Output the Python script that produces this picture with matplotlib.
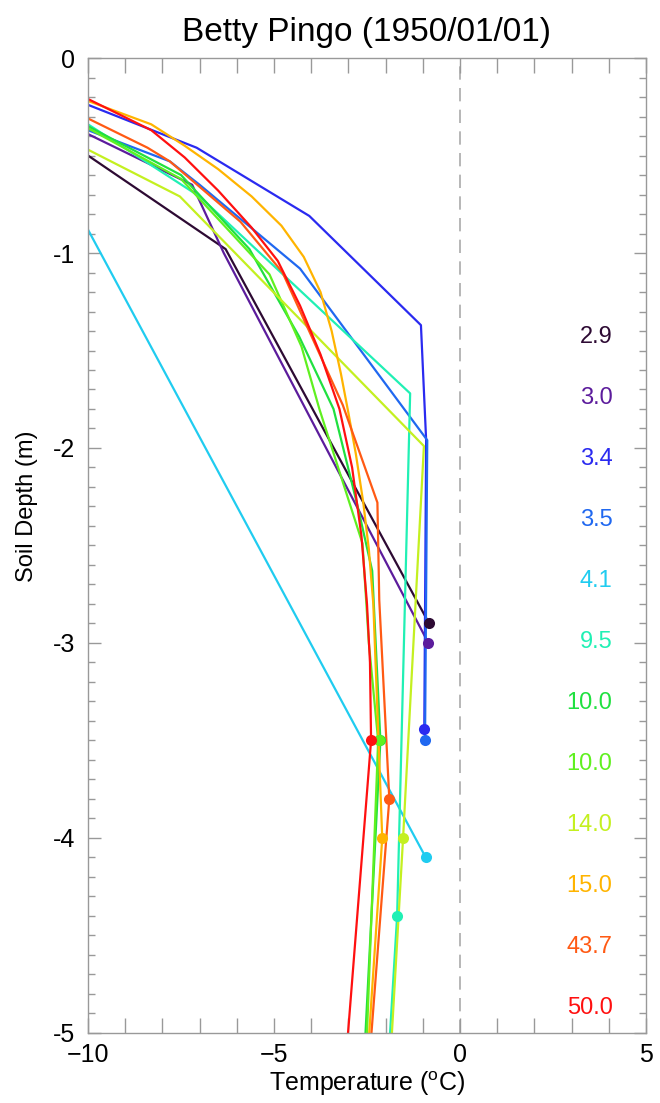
import numpy as np
import matplotlib
matplotlib.use("Agg")
import matplotlib.pyplot as plt
from matplotlib.ticker import MultipleLocator

plt.rcParams["font.family"] = ["Liberation Sans", "DejaVu Sans"]
plt.rcParams["mathtext.fontset"] = "custom"
plt.rcParams["mathtext.rm"] = "Liberation Sans"

# %% profile data: temperature (C) vs soil depth (m), one per label
labels = ["2.9", "3.0", "3.4", "3.5", "4.1", "9.5", "10.0", "10.0", "14.0", "15.0", "43.7", "50.0"]
colors = ["#2d0a33", "#5c1c9c", "#2a2af0", "#2068f0", "#20ccf0", "#20f0b4",
          "#20e040", "#60f020", "#c4f020", "#ffb400", "#ff5a14", "#ff1010"]

t_29 = [-10, -6.3, -0.83]
d_29 = [-0.50, -0.98, -2.9]
t_30 = [-10, -7.2, -6.35, -0.85]
d_30 = [-0.39, -0.65, -1.0, -3.0]
t_34 = [-10, -7.08, -4.05, -1.05, -0.91, -0.96]
d_34 = [-0.24, -0.46, -0.81, -1.37, -1.96, -3.44]
t_35 = [-10, -7.8, -7.0, -4.3, -0.88, -0.94]
d_35 = [-0.37, -0.53, -0.65, -1.08, -1.96, -3.5]
t_41 = [-10, -0.92]
d_41 = [-0.88, -4.1]
t_95 = [-10, -7.0, -1.34, -1.69, -1.88]
d_95 = [-0.34, -0.71, -1.72, -4.4, -5.0]
t_10a = [-10, -7.5, -5.66, -4.32, -3.4, -2.75, -2.36, -2.14, -2.54]
d_10a = [-0.35, -0.6, -0.98, -1.43, -1.8, -2.3, -2.63, -3.5, -5.0]
t_10b = [-10, -7.5, -5.12, -4.26, -3.78, -2.62, -2.45, -2.2, -2.50]
d_10b = [-0.36, -0.62, -1.11, -1.48, -1.8, -2.49, -3.0, -3.5, -5.0]
t_14 = [-10, -7.53, -0.97, -1.53, -1.83]
d_14 = [-0.47, -0.71, -1.99, -4.0, -5.0]
t_15 = [-10, -8.3, -7.4, -6.5, -5.6, -4.8, -4.2, -3.75, -3.45, -3.2, -3.0, -2.8,
        -2.6, -2.45, -2.33, -2.09, -2.44]
d_15 = [-0.22, -0.34, -0.45, -0.57, -0.71, -0.86, -1.02, -1.2, -1.4, -1.62, -1.82, -2.03,
        -2.28, -2.52, -2.8, -4.0, -5.0]
t_437 = [-10, -8.4, -7.8, -5.9, -4.77, -3.15, -2.22, -2.17, -1.9, -2.38]
d_437 = [-0.31, -0.46, -0.53, -0.84, -1.1, -1.78, -2.28, -2.78, -3.8, -5.0]
t_50 = [-10, -8.3, -7.4, -6.5, -5.6, -4.9, -4.3, -3.75, -3.24, -2.9, -2.65, -2.5,
        -2.42, -2.39, -3.01]
d_50 = [-0.21, -0.37, -0.51, -0.68, -0.87, -1.04, -1.27, -1.52, -1.8, -2.1, -2.45, -2.8,
        -3.1, -3.5, -5.0]

temps = [t_29, t_30, t_34, t_35, t_41, t_95, t_10a, t_10b, t_14, t_15, t_437, t_50]
depths = [d_29, d_30, d_34, d_35, d_41, d_95, d_10a, d_10b, d_14, d_15, d_437, d_50]

# marker point on each profile
mark_t = [-0.83, -0.85, -0.96, -0.94, -0.92, -1.69, -2.14, -2.17, -1.53, -2.09, -1.9, -2.39]
mark_d = [-2.9, -3.0, -3.44, -3.5, -4.1, -4.4, -3.5, -3.5, -4.0, -4.0, -3.8, -3.5]

# %%
fig = plt.figure(figsize=(6.6, 11.03), dpi=100)
ax = fig.add_axes([0.1333, 0.0635, 0.8455, 0.8839])

ax.axvline(0, color="#aaaaaa", lw=1.2, dashes=(8, 5), zorder=1)

for t, d, c in zip(temps, depths, colors):
    ax.plot(t, d, color=c, lw=1.6, zorder=2)
for t, d, c in zip(mark_t, mark_d, colors):
    ax.plot(t, d, "o", color=c, ms=8, mec="none", zorder=3)

# site labels down the right side
for i, (lab, c) in enumerate(zip(labels, colors)):
    ax.text(4.1, -1.43 - 0.313 * i, lab, color=c, fontsize=17,
            ha="right", va="center")

ax.set_xlim(-10, 5)
ax.set_ylim(-5, 0)
ax.set_xticks([-10, -5, 0, 5])
ax.set_yticks([0, -1, -2, -3, -4, -5])
ax.set_yticklabels(["0", "-1", "-2", "-3", "-4", "-5"])
ax.xaxis.set_minor_locator(MultipleLocator(1))
ax.yaxis.set_minor_locator(MultipleLocator(0.1))

for s in ax.spines.values():
    s.set_color("#999999")
    s.set_linewidth(1.0)
ax.tick_params(axis="both", which="both", direction="in", top=True, right=True,
               color="#999999", labelsize=18, width=1.0)
ax.tick_params(axis="x", which="both", length=11, pad=7)
ax.tick_params(axis="y", which="major", length=9, pad=9)
ax.tick_params(axis="y", which="minor", length=5)

ax.set_xlabel(r"Temperature ($^{\rm o}$C)", fontsize=18)
ax.xaxis.set_label_coords(0.5, -0.037)
ax.set_ylabel("Soil Depth (m)", fontsize=17)
ax.yaxis.set_label_coords(-0.09, 0.54)
ax.set_title("Betty Pingo (1950/01/01)", fontsize=24, pad=12)

fig.savefig("out.png", dpi=100)
